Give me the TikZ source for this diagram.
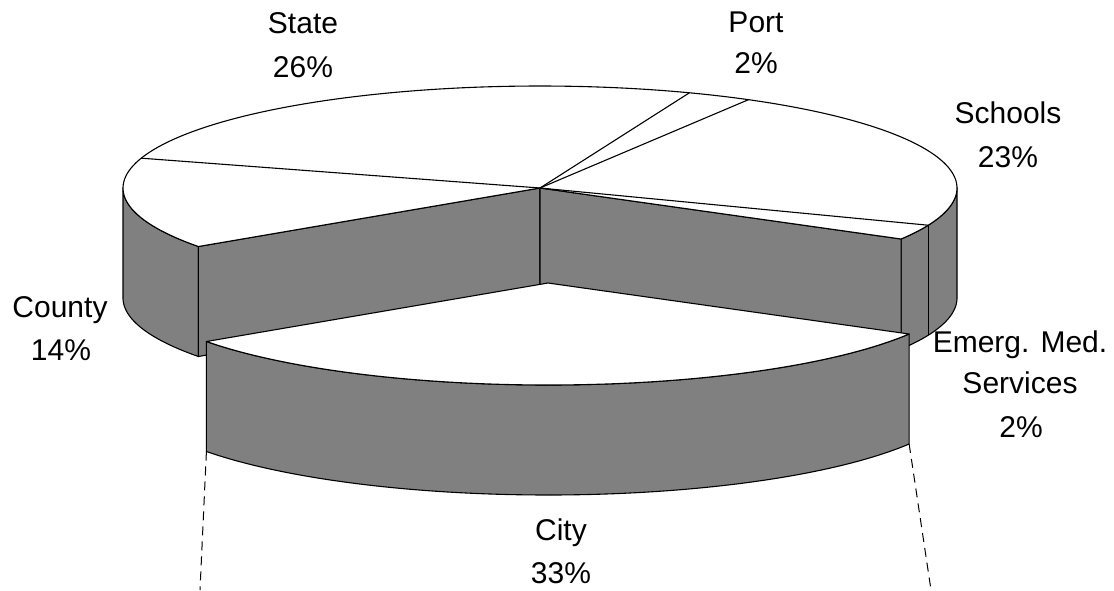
\documentclass[tikz,border=0pt]{standalone}
\usepackage{fontspec}
\setmainfont{Liberation Sans}
\usepackage{tikz}
\usetikzlibrary{calc,positioning}
\definecolor{wallgray}{rgb}{0.5,0.5,0.5}
\newcommand{\pcx}{540}
\newcommand{\pcy}{188}
\newcommand{\prx}{417}
\newcommand{\pry}{102}
\newcommand{\pth}{110}
\newcommand{\ccx}{548}
\newcommand{\ccy}{283}
\tikzset{
  wall/.style={draw, fill=wallgray, line width=1.1pt, line join=round},
  face/.style={draw, fill=white, line width=1.1pt, line join=round},
  leader/.style={dash pattern=on 9pt off 6pt, line width=1pt},
  lbl/.style={font=\fontsize{30}{36}\selectfont, anchor=base, inner sep=0pt},
}

\begin{document}
\begin{tikzpicture}[x=1pt,y=-1pt]
        \useasboundingbox (0,0) rectangle (1114,590);
        \coordinate (O) at (\pcx,\pcy);
        \coordinate (Ob) at (\pcx,\pcy+\pth);
        \coordinate (C) at (\ccx,\ccy);
        \coordinate (rimCounty) at ({\pcx+\prx*cos(145)},{\pcy+\pry*sin(145)});
        \coordinate (rimEms) at ({\pcx+\prx*cos(30)},{\pcy+\pry*sin(30)});
        \coordinate (rimSchools) at ({\pcx+\prx*cos(21.4)},{\pcy+\pry*sin(21.4)});
        \coordinate (cityBL) at ({\ccx+\prx*cos(145)},{\ccy+\pth+\pry*sin(145)});
        \coordinate (cityBR) at ({\ccx+\prx*cos(30)},{\ccy+\pth+\pry*sin(30)});
        \coordinate (dropL) at (200,590);
        \coordinate (dropR) at (931,590);
        % outer walls of the main pie
        \draw[wall] plot[domain=145:180,samples=40] ({\pcx+\prx*cos(\x)},{\pcy+\pry*sin(\x)})
          -- plot[domain=180:145,samples=40] ({\pcx+\prx*cos(\x)},{\pcy+\pth+\pry*sin(\x)}) -- cycle;
        \draw[wall] plot[domain=0:30,samples=40] ({\pcx+\prx*cos(\x)},{\pcy+\pry*sin(\x)})
          -- plot[domain=30:0,samples=40] ({\pcx+\prx*cos(\x)},{\pcy+\pth+\pry*sin(\x)}) -- cycle;
        \draw[line width=1.1pt] (rimSchools) -- ++(0,\pth);
        % cut faces
        \draw[wall] (O) -- (rimCounty) -- ++(0,\pth) -- (Ob) -- cycle;
        \draw[wall] (O) -- (rimEms) -- ++(0,\pth) -- (Ob) -- cycle;
        % top of the main pie
        \draw[face] (O) -- plot[domain=145:390,samples=160] ({\pcx+\prx*cos(\x)},{\pcy+\pry*sin(\x)}) -- cycle;
        \foreach \a in {197,291,300,381.4}
          \draw[line width=1.1pt] (O) -- ({\pcx+\prx*cos(\a)},{\pcy+\pry*sin(\a)});
        % exploded slice
        \draw[wall] plot[domain=30:145,samples=80] ({\ccx+\prx*cos(\x)},{\ccy+\pry*sin(\x)})
          -- plot[domain=145:30,samples=80] ({\ccx+\prx*cos(\x)},{\ccy+\pth+\pry*sin(\x)}) -- cycle;
        \draw[face] (C) -- plot[domain=30:145,samples=80] ({\ccx+\prx*cos(\x)},{\ccy+\pry*sin(\x)}) -- cycle;
        \draw[leader] (cityBL) -- (dropL);
        \draw[leader] (cityBR) -- (dropR);
        % labels
        \node[lbl] (state) at (303,33) {State};
        \node[lbl] (statepct) at (303,77) {26\%};
        \node[lbl] (port) at (756,32) {Port};
        \node[lbl] (portpct) at (756,73) {2\%};
        \node[lbl] (schools) at (1008,123) {Schools};
        \node[lbl] (schoolspct) at (1008,167) {23\%};
        \node[lbl] (county) at (60,317) {County};
        \node[lbl] (countypct) at (61,360) {14\%};
        \node[lbl] (ems) at (1020,352) {Emerg. Med.};
        \node[lbl] (emsb) at (1020,393) {Services};
        \node[lbl] (emspct) at (1021,437) {2\%};
        \node[lbl] (city) at (561,540) {City};
        \node[lbl] (citypct) at (561,583) {33\%};
      \end{tikzpicture}
\end{document}
